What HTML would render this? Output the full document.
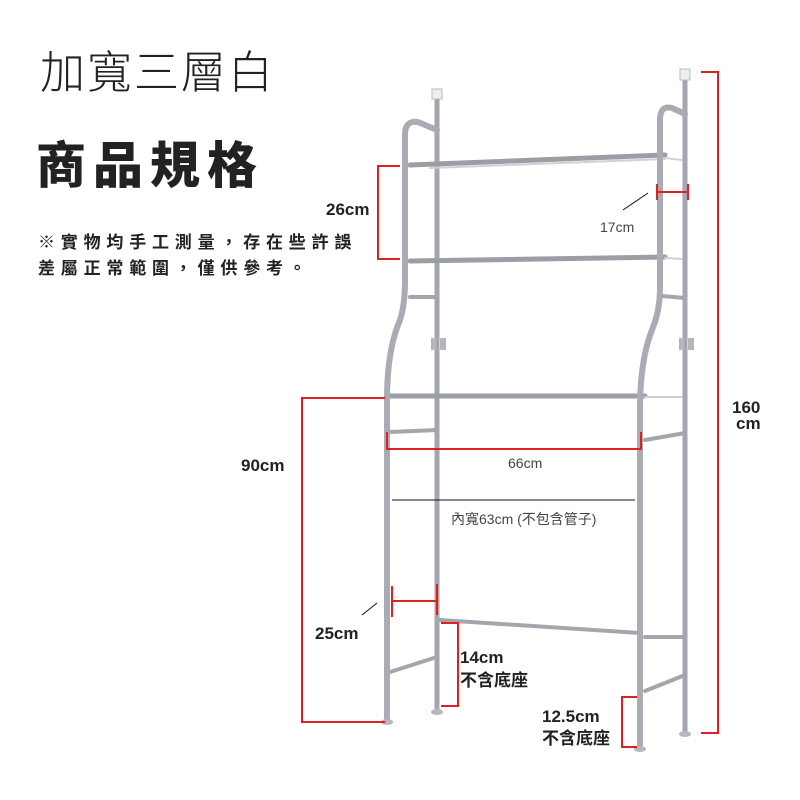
<!DOCTYPE html>
<html><head><meta charset="utf-8"><style>
body{margin:0;background:#fff;}
svg{display:block}
</style></head><body>
<svg width="800" height="800" viewBox="0 0 800 800" xmlns="http://www.w3.org/2000/svg" font-family="'Liberation Sans','Noto Sans CJK TC',sans-serif">
<rect width="800" height="800" fill="#fff"/>
<text x="40" y="88" font-size="45" font-weight="300" fill="#222" letter-spacing="2" font-family="'Noto Sans CJK TC',sans-serif">加寬三層白</text>
<text x="36" y="183" font-size="50" font-weight="900" fill="#222" letter-spacing="7" font-family="'Noto Sans CJK TC',sans-serif">商品規格</text>
<text x="38" y="248" font-size="17" font-weight="bold" fill="#222" letter-spacing="5.8" font-family="'Noto Sans CJK TC',sans-serif">※實物均手工測量，存在些許誤</text>
<text x="38" y="274" font-size="17" font-weight="bold" fill="#222" letter-spacing="5.8" font-family="'Noto Sans CJK TC',sans-serif">差屬正常範圍，僅供參考。</text>

<g fill="none" stroke-linecap="round">
<g stroke="#a4a6ae" stroke-width="5">
<line x1="437" y1="98" x2="437" y2="710"/>
<line x1="685" y1="80" x2="685" y2="732"/>
</g>
<rect x="432" y="89" width="10" height="10" fill="#eee" stroke="#bbb"/>
<rect x="680" y="69" width="10" height="11" fill="#eee" stroke="#bbb"/>
<g stroke="#a4a6ae" stroke-width="4">
<line x1="410" y1="297" x2="437" y2="297"/>
<line x1="390" y1="432" x2="437" y2="430"/>
<line x1="390" y1="672" x2="437" y2="657"/>
<line x1="662" y1="296" x2="685" y2="298"/>
<line x1="645" y1="440" x2="685" y2="433"/>
<line x1="645" y1="691" x2="685" y2="675"/>
<line x1="645" y1="637" x2="685" y2="637"/>
<line x1="440" y1="620" x2="640" y2="633"/>
</g>
<g stroke="#9c9ea6" stroke-width="5">
<line x1="410" y1="165" x2="665" y2="155"/>
<line x1="410" y1="261" x2="665" y2="257"/>
<line x1="390" y1="396" x2="645" y2="396"/>
</g>
<g stroke="#cfd1d6" stroke-width="2">
<line x1="430" y1="168" x2="665" y2="159"/>
<line x1="665" y1="158" x2="682" y2="160"/>
<line x1="665" y1="258" x2="682" y2="259"/>
<line x1="645" y1="397" x2="682" y2="397"/>
</g>
<g stroke="#aaacb4" stroke-width="6">
<path d="M387 720 L387 400 Q387 350 400 320 Q405 305 405 280 L405 135 Q405 120 418 122 L437 130"/>
<path d="M640 745 L640 410 Q640 360 652 330 Q660 310 660 290 L660 120 Q660 105 672 108 L685 114"/>
</g>
</g>
<g fill="#b5b7bd">
<ellipse cx="387" cy="722" rx="6" ry="3"/><ellipse cx="437" cy="712" rx="6" ry="3"/>
<ellipse cx="640" cy="749" rx="6" ry="3"/><ellipse cx="685" cy="734" rx="6" ry="3"/>
<rect x="431" y="338" width="5" height="12"/><rect x="440" y="338" width="6" height="12"/>
<rect x="679" y="338" width="5" height="12"/><rect x="688" y="338" width="6" height="12"/>
</g>

<g stroke="#e02020" stroke-width="2" fill="none">
<polyline points="400,166 378,166 378,259 400,259"/>
<polyline points="385,398 302,398 302,722 385,722"/>
<polyline points="387,432 387,449 641,449 641,432"/>
<polyline points="701,72 718,72 718,733 701,733"/>
<line x1="657" y1="192" x2="688" y2="192"/><line x1="657" y1="184" x2="657" y2="200"/><line x1="688" y1="184" x2="688" y2="200"/>
<line x1="392" y1="601" x2="437" y2="601"/><line x1="392" y1="586" x2="392" y2="617"/><line x1="437" y1="584" x2="437" y2="615"/>
<polyline points="441,623 458,623 458,706 441,706"/>
<polyline points="637,697 622,697 622,747 637,747"/>
</g>
<g stroke="#111" stroke-width="1">
<line x1="392" y1="500" x2="635" y2="500"/>
<line x1="623" y1="210" x2="648" y2="193"/>
<line x1="362" y1="615" x2="377" y2="603"/>
</g>
<g fill="#222" font-weight="bold" font-size="17">
<text x="326" y="215">26cm</text>
<text x="241" y="471">90cm</text>
<text x="315" y="639">25cm</text>
<text x="732" y="413">160</text>
<text x="736" y="429">cm</text>
<text x="460" y="663">14cm</text>
<text x="460" y="686" font-family="'Noto Sans CJK TC',sans-serif">不含底座</text>
<text x="542" y="722">12.5cm</text>
<text x="542" y="744" font-family="'Noto Sans CJK TC',sans-serif">不含底座</text>
</g>
<g fill="#444" font-size="14">
<text x="600" y="232">17cm</text>
<text x="508" y="468">66cm</text>
<text x="451" y="524">內寬63cm (不包含管子)</text>
</g>
</svg>
</body></html>
